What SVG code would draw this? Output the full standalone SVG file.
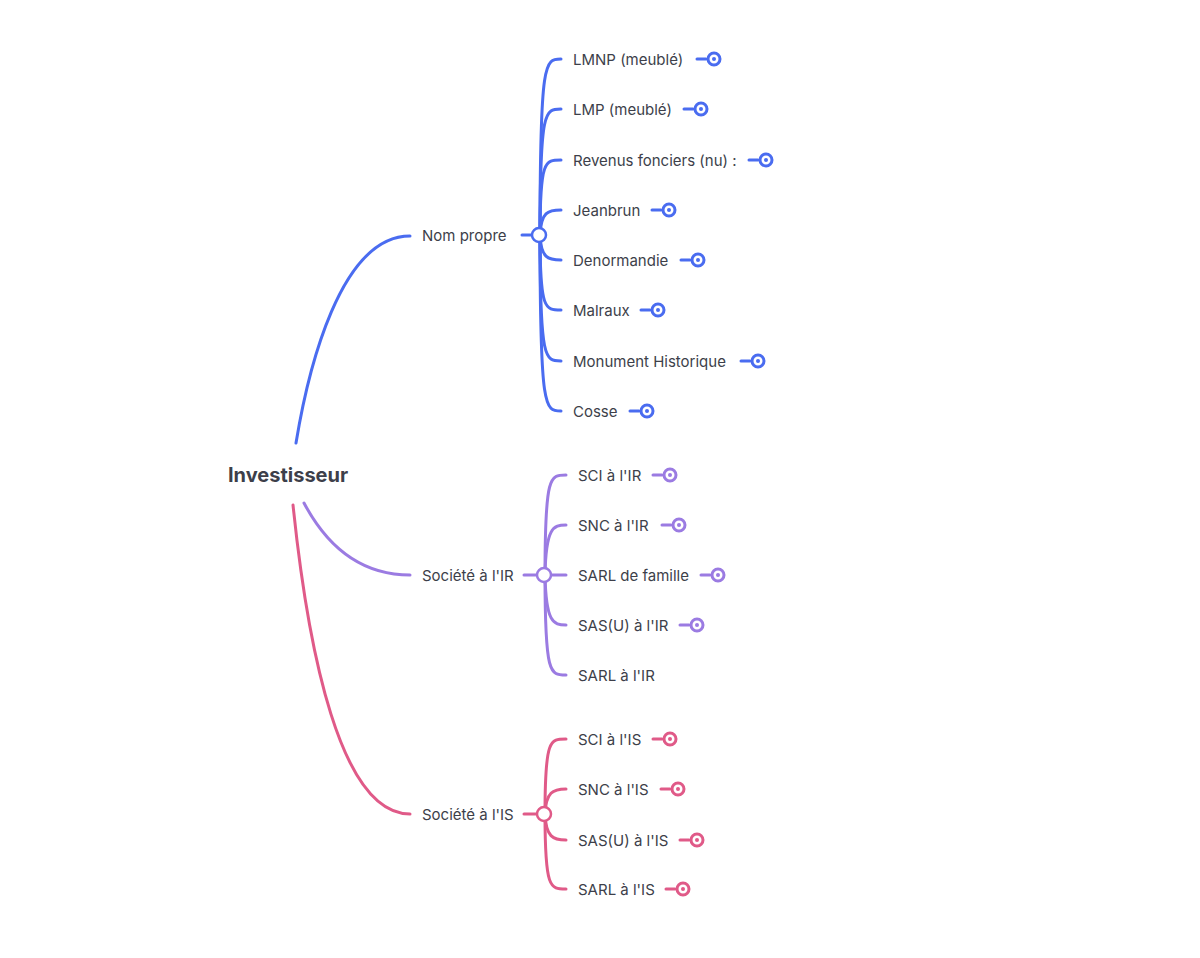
<svg xmlns="http://www.w3.org/2000/svg" width="1200" height="958" viewBox="0 0 1200 958">
<style>
text{font-family:Inter,"Noto Sans","Liberation Sans",sans-serif;font-size:15px;fill:#3d3f4a}
.root{font-size:20px;font-weight:700}
.c{fill:none;stroke-width:3;stroke-linecap:round}
.b{stroke:#4a6cf0}.p{stroke:#9b7be2}.k{stroke:#e05a88}
.hub{fill:#fff;stroke-width:2.5}
.lf{fill:#fff;stroke-width:3}
.bd{fill:#4a6cf0}.pd{fill:#9b7be2}.kd{fill:#e05a88}
</style>
<rect width="1200" height="958" fill="#fff"/>
<g id="connectors">
<path class="c b" d="M296,443 C308,370 340,236 410,236"/>
<path class="c p" d="M304,503 C330,552 365,575 410,575"/>
<path class="c k" d="M293,505 C308,650 340,814 410,814"/>
<path class="c b" d="M522,235 L532,235"/>
<path class="c p" d="M524,575 L537,575"/>
<path class="c k" d="M524,814 L537,814"/>
<g class="c b">
<path d="M540,235 C540,59 545,59 561,59"/>
<path d="M540,235 C540,109 545,109 561,109"/>
<path d="M540,235 C540,160 545,160 561,160"/>
<path d="M540,235 C541,212 548,210 561,210"/>
<path d="M540,235 C541,258 548,260 561,260"/>
<path d="M540,235 C540,310 545,310 561,310"/>
<path d="M540,235 C540,361 545,361 561,361"/>
<path d="M540,235 C540,411 545,411 561,411"/>
</g>
<g class="c p">
<path d="M545,575 C545,475 550,475 566,475"/>
<path d="M545,575 C546,528 553,525 566,525"/>
<path d="M545,575 L566,575"/>
<path d="M545,575 C546,622 553,625 566,625"/>
<path d="M545,575 C545,675 550,675 566,675"/>
</g>
<g class="c k">
<path d="M545,814 C545,739 550,739 566,739"/>
<path d="M545,814 C546,792 553,789 566,789"/>
<path d="M545,814 C546,837 553,840 566,840"/>
<path d="M545,814 C545,889 550,889 566,889"/>
</g>
</g>
<g id="root"><text class="root" x="228" y="482">Investisseur</text></g>
<g id="nom-propre"><text x="422" y="241">Nom propre</text><circle class="hub b" cx="539" cy="235" r="7"/></g>
<g id="societe-ir"><text x="422" y="581">Société à l'IR</text><circle class="hub p" cx="544" cy="575" r="7"/></g>
<g id="societe-is"><text x="422" y="820">Société à l'IS</text><circle class="hub k" cx="544" cy="814" r="7"/></g>

<g id="lmnp"><text x="573" y="65">LMNP (meublé)</text><path class="c b" d="M697,59 H706"/><circle class="lf b" cx="714" cy="59" r="6"/><circle class="bd" cx="714" cy="59" r="2"/></g>
<g id="lmp"><text x="573" y="115">LMP (meublé)</text><path class="c b" d="M684,109 H693"/><circle class="lf b" cx="701" cy="109" r="6"/><circle class="bd" cx="701" cy="109" r="2"/></g>
<g id="revenus"><text x="573" y="166">Revenus fonciers (nu) :</text><path class="c b" d="M749,160 H758"/><circle class="lf b" cx="766" cy="160" r="6"/><circle class="bd" cx="766" cy="160" r="2"/></g>
<g id="jeanbrun"><text x="573" y="216">Jeanbrun</text><path class="c b" d="M652,210 H661"/><circle class="lf b" cx="669" cy="210" r="6"/><circle class="bd" cx="669" cy="210" r="2"/></g>
<g id="denormandie"><text x="573" y="266">Denormandie</text><path class="c b" d="M681,260 H690"/><circle class="lf b" cx="698" cy="260" r="6"/><circle class="bd" cx="698" cy="260" r="2"/></g>
<g id="malraux"><text x="573" y="316">Malraux</text><path class="c b" d="M641,310 H650"/><circle class="lf b" cx="658" cy="310" r="6"/><circle class="bd" cx="658" cy="310" r="2"/></g>
<g id="monument"><text x="573" y="367">Monument Historique</text><path class="c b" d="M741,361 H750"/><circle class="lf b" cx="758" cy="361" r="6"/><circle class="bd" cx="758" cy="361" r="2"/></g>
<g id="cosse"><text x="573" y="417">Cosse</text><path class="c b" d="M630,411 H639"/><circle class="lf b" cx="647" cy="411" r="6"/><circle class="bd" cx="647" cy="411" r="2"/></g>

<g id="sci-ir"><text x="578" y="481">SCI à l'IR</text><path class="c p" d="M653,475 H662"/><circle class="lf p" cx="670" cy="475" r="6"/><circle class="pd" cx="670" cy="475" r="2"/></g>
<g id="snc-ir"><text x="578" y="531">SNC à l'IR</text><path class="c p" d="M662,525 H671"/><circle class="lf p" cx="679" cy="525" r="6"/><circle class="pd" cx="679" cy="525" r="2"/></g>
<g id="sarl-famille"><text x="578" y="581">SARL de famille</text><path class="c p" d="M701,575 H710"/><circle class="lf p" cx="718" cy="575" r="6"/><circle class="pd" cx="718" cy="575" r="2"/></g>
<g id="sas-ir"><text x="578" y="631">SAS(U) à l'IR</text><path class="c p" d="M680,625 H689"/><circle class="lf p" cx="697" cy="625" r="6"/><circle class="pd" cx="697" cy="625" r="2"/></g>
<g id="sarl-ir"><text x="578" y="681">SARL à l'IR</text></g>

<g id="sci-is"><text x="578" y="745">SCI à l'IS</text><path class="c k" d="M653,739 H662"/><circle class="lf k" cx="670" cy="739" r="6"/><circle class="kd" cx="670" cy="739" r="2"/></g>
<g id="snc-is"><text x="578" y="795">SNC à l'IS</text><path class="c k" d="M661,789 H670"/><circle class="lf k" cx="678" cy="789" r="6"/><circle class="kd" cx="678" cy="789" r="2"/></g>
<g id="sas-is"><text x="578" y="846">SAS(U) à l'IS</text><path class="c k" d="M680,840 H689"/><circle class="lf k" cx="697" cy="840" r="6"/><circle class="kd" cx="697" cy="840" r="2"/></g>
<g id="sarl-is"><text x="578" y="895">SARL à l'IS</text><path class="c k" d="M666,889 H675"/><circle class="lf k" cx="683" cy="889" r="6"/><circle class="kd" cx="683" cy="889" r="2"/></g>
</svg>
